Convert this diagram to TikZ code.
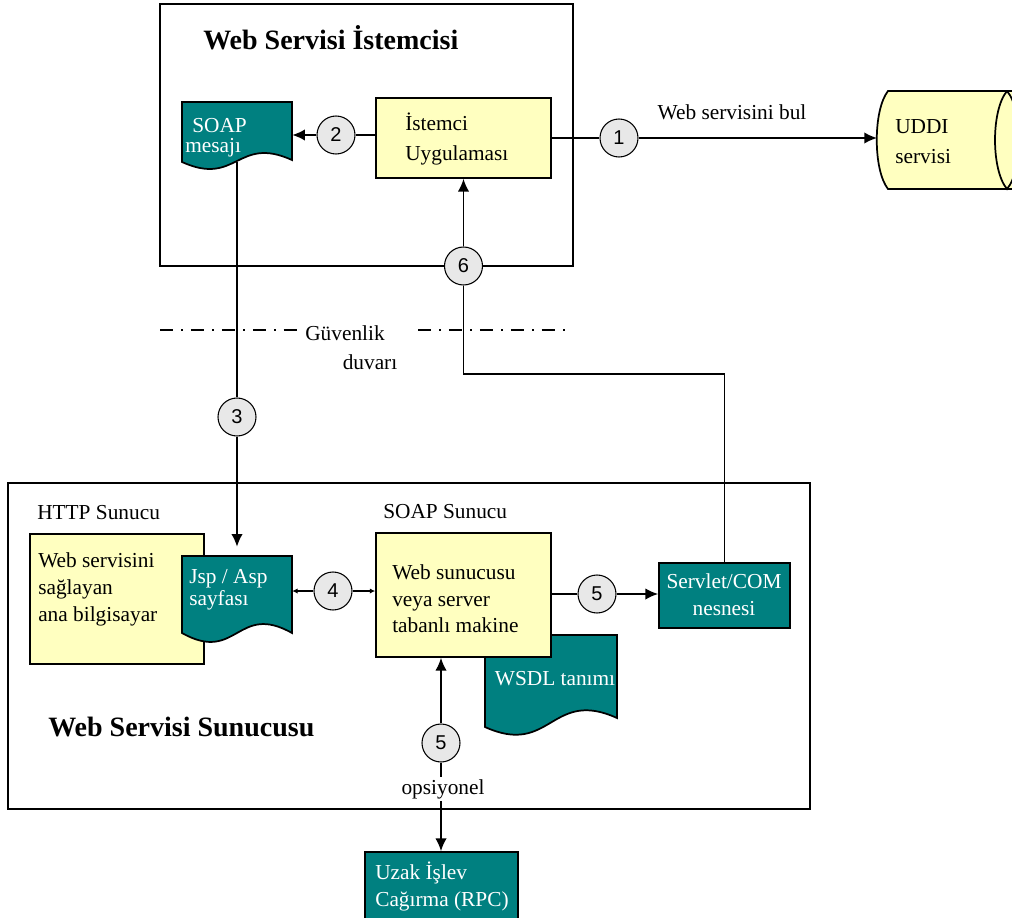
\documentclass[tikz,border=0pt]{standalone}
\usepackage{fontspec}
\setmainfont{Liberation Serif}
\newfontfamily\digitfont{Liberation Sans}
\usetikzlibrary{arrows.meta,fit}
\definecolor{tealbox}{RGB}{0,128,128}
\definecolor{paleyellow}{RGB}{255,255,192}
\definecolor{knob}{RGB}{232,232,232}

\begin{document}
\begin{tikzpicture}[x=0.75pt,y=-0.75pt,
  frame/.style={draw, line width=1.3pt, inner sep=0pt},
  ybox/.style={frame, fill=paleyellow},
  tbox/.style={frame, fill=tealbox},
  docshape/.style={fill=tealbox, draw=black, line width=1.3pt},
  area/.style={inner sep=0pt},
  txt/.style={inner sep=0pt, font=\fontsize{16}{20}\selectfont, align=left},
  wtxt/.style={txt, text=white},
  heading/.style={inner sep=0pt, font=\bfseries\fontsize{21}{25}\selectfont},
  wire/.style={line width=1.2pt},
  arr/.style={wire, -{Latex[length=9.5pt,width=8.5pt]}},
  tinyarr/.style={wire, -{Latex[length=4pt,width=4pt]}},
  num/.style={circle, draw, line width=0.8pt, fill=knob, minimum size=28.5pt,
              inner sep=0pt, font=\digitfont\fontsize{15}{15}\selectfont},
  fence/.style={line width=1.1pt, dash pattern=on 10pt off 6pt on 1.2pt off 6pt},
]
\useasboundingbox (0,0) rectangle (1012,917);

% ---------- client side ----------
\node[frame, fit={(160,4) (573,266)}] (client) {};
\node[heading, anchor=west] (clientTitle) at (203,38) {Web Servisi İstemcisi};

\filldraw[docshape] (182,102) -- (292,102) -- (292,160)
  .. controls (237,135) and (237,187) .. (182,162) -- cycle;
\node[area, fit={(182,102) (292,162)}] (soapmsg) {};
\node[wtxt, anchor=west, font=\fontsize{16}{15}\selectfont] (soapmsgText) at (185,138)
  {\hspace*{5.25pt}SOAP\\mesajı};

\node[ybox, fit={(376,98) (551,178)}] (istemci) {};
\node[txt, anchor=west, font=\fontsize{16}{22.5}\selectfont] (istemciText) at (405,139)
  {İstemci\\Uygulaması};

% ---------- UDDI drum ----------
\fill[paleyellow] (888,91) -- (1020,91) -- (1020,189) -- (888,189)
  .. controls (873,170) and (873,110) .. (888,91) -- cycle;
\draw[line width=1.3pt] (1020,91) -- (888,91) .. controls (873,110) and (873,170) .. (888,189) -- (1020,189);
\draw[line width=1.3pt] (1007,91) .. controls (991,110) and (991,170) .. (1007,189)
  .. controls (1023,170) and (1023,110) .. (1007,91);
\node[area, minimum width=100pt, minimum height=73pt] (uddi) at (945,140) {};
\coordinate (uddiW) at (877,138);
\node[txt, anchor=west, font=\fontsize{16}{22.5}\selectfont] (uddiText) at (895,142) {UDDI\\servisi};

% ---------- firewall ----------
\coordinate (fwA) at (160,330);
\coordinate (fwB) at (302,330);
\coordinate (fwC) at (418,330);
\coordinate (fwD) at (565,330);
\draw[fence] (fwA) -- (fwB);
\draw[fence] (fwC) -- (fwD);
\node[txt] (fwText1) at (345,333) {Güvenlik};
\node[txt] (fwText2) at (370,362) {duvarı};

% ---------- server side ----------
\node[frame, fit={(8,483) (810,809)}] (server) {};
\node[heading, anchor=west] (serverTitle) at (48,727) {Web Servisi Sunucusu};
\node[txt, anchor=west] (httpLabel) at (37,513) {HTTP Sunucu};
\node[txt, anchor=west] (soapLabel) at (383,512) {SOAP Sunucu};

\node[ybox, fit={(30,534) (204,664)}] (host) {};
\node[txt, anchor=west, font=\fontsize{16}{20.25}\selectfont] (hostText) at (38,589)
  {Web servisini\\sağlayan\\ana bilgisayar};

\filldraw[docshape] (182,556) -- (292,556) -- (292,633)
  .. controls (237,602) and (237,664) .. (182,633) -- cycle;
\node[area, fit={(182,556) (292,633)}] (jsp) {};
\node[wtxt, anchor=west, font=\fontsize{16}{16.5}\selectfont] (jspText) at (189,590)
  {Jsp / Asp\\sayfası};

\filldraw[docshape] (485,635) -- (617,635) -- (617,718)
  .. controls (551,688) and (551,757) .. (485,727) -- cycle;
\node[area, fit={(485,635) (617,727)}] (wsdl) {};
\node[wtxt] (wsdlText) at (555,679) {WSDL tanımı};

\node[ybox, fit={(376,533) (551,657)}] (soapbox) {};
\node[txt, anchor=west, font=\fontsize{16}{20}\selectfont] (soapboxText) at (392,599)
  {Web sunucusu\\veya server\\tabanlı makine};

\node[tbox, fit={(659,563) (790,628)}] (servlet) {};
\node[wtxt, align=center, font=\fontsize{16}{20.25}\selectfont] (servletText) at (724,595)
  {Servlet/COM\\nesnesi};

\node[tbox, fit={(365,852) (518,930)}] (rpc) {};
\node[wtxt, anchor=west, font=\fontsize{16}{20.25}\selectfont] (rpcText) at (375,886)
  {Uzak İşlev\\Cağırma (RPC)};

% ---------- numbered steps ----------
\node[num] (n1) at (619,138) {1};
\node[num] (n2) at (336,135) {2};
\node[num] (n3) at (237,417) {3};
\node[num] (n4) at (333,591) {4};
\node[num] (n5a) at (597,594) {5};
\node[num] (n5b) at (441,743) {5};
\node[num] (n6) at (463.5,266) {6};

% ---------- connectors ----------
\draw[wire] (istemci.east) -- (n1);
\draw[arr] (n1) -- (uddiW);
\node[txt] (findText) at (732,112) {Web servisini bul};

\draw[wire] (istemci.west |- n2) -- (n2);
\draw[arr] (n2) -- (soapmsg.east |- n2);

\draw[wire] (soapmsg.south) -- (n3);
\draw[arr, shorten >=6.75pt] (n3) -- (jsp.north -| n3);

\draw[tinyarr] (n4) -- (jsp.east |- n4);
\draw[tinyarr] (n4) -- (soapbox.west |- n4);

\draw[wire] (soapbox.east |- n5a) -- (n5a);
\draw[arr] (n5a) -- (servlet.west |- n5a);

\coordinate (bend6) at (463.5,374);
\draw[wire] (servlet.north) |- (bend6) -- (n6);
\draw[arr] (n6) -- (n6 |- istemci.south);

\draw[arr] (n5b) -- (n5b |- soapbox.south);
\draw[arr] (n5b) -- (n5b |- rpc.north);
\node[txt, fill=white, inner sep=1.5pt] (optText) at (443,789) {opsiyonel};
\end{tikzpicture}
\end{document}
